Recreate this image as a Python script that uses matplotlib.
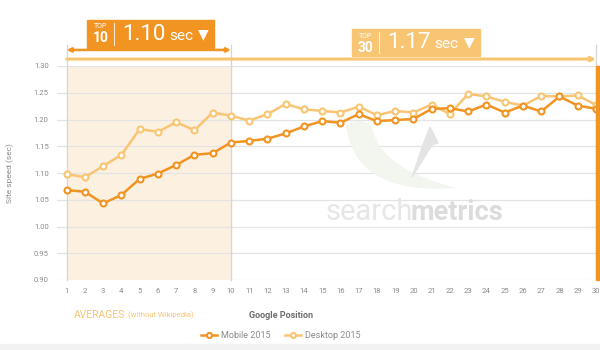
import numpy as np
import matplotlib
matplotlib.use('Agg')
import matplotlib.pyplot as plt
from matplotlib.patches import Rectangle, Polygon, PathPatch
from matplotlib.path import Path

# average load time per Google position
positions = list(range(1, 31))
mobile = [1.068, 1.065, 1.043, 1.059, 1.089, 1.099, 1.115, 1.134, 1.137, 1.157,
          1.160, 1.164, 1.174, 1.187, 1.197, 1.194, 1.210, 1.197, 1.199, 1.201,
          1.220, 1.221, 1.215, 1.228, 1.213, 1.226, 1.215, 1.243, 1.226, 1.220]
desktop = [1.098, 1.092, 1.113, 1.134, 1.182, 1.177, 1.195, 1.180, 1.213, 1.207,
           1.198, 1.210, 1.229, 1.219, 1.216, 1.213, 1.224, 1.208, 1.216, 1.213,
           1.228, 1.210, 1.248, 1.243, 1.233, 1.226, 1.244, 1.243, 1.245, 1.227]
y_ticks = [0.90, 0.95, 1.00, 1.05, 1.10, 1.15, 1.20, 1.25, 1.30]
top10_avg = "1.10"
top30_avg = "1.17"

DARK = '#F19422'
LIGHT = '#F8C572'
SHADE = '#FCF1E1'
GRID = '#E3E3E3'
TXT = '#8A8A8A'

plt.rcParams['font.family'] = ['Roboto', 'DejaVu Sans']

fig = plt.figure(figsize=(6, 3.5), dpi=100)
W, H = 600.0, 350.0


def fx(px):
    return px / W


def fy(py):
    return 1 - py / H


def fp(pts):
    return [(fx(x), fy(y)) for x, y in pts]


renderer = fig.canvas.get_renderer()


def right_edge(t):
    bb = t.get_window_extent(renderer=renderer)
    return bb.x1


ax = fig.add_axes([fx(57), fy(280), fx(596) - fx(57), fy(66) - fy(280)])
ax.set_xlim(0.47, 30)
ax.set_ylim(0.90, 1.30)

# watermark logo behind the data
swoosh = Path(fp([(346, 126), (356, 196), (456, 188), (378, 168), (372, 126),
                  (360, 116), (346, 126)]),
              [Path.MOVETO, Path.CURVE3, Path.CURVE3, Path.CURVE3, Path.CURVE3,
               Path.CURVE3, Path.CURVE3])
fig.patches.append(PathPatch(swoosh, facecolor='#F2F6EE', edgecolor='none',
                             transform=fig.transFigure, zorder=0))
spike = Polygon(fp([(430, 127), (438, 143), (432, 145), (412, 177),
                    (424, 142)]),
                closed=True, color='#E4E4E4', transform=fig.transFigure,
                zorder=0)
fig.patches.append(spike)
fig.text(fx(326), fy(212), 'search', color='#E6E6E6', fontsize=21,
         va='center', ha='left')
fig.text(fx(503), fy(212), 'metrics', color='#DCDCDC',
         fontsize=19.5, fontweight='bold', va='center', ha='right')

ax.set_facecolor('none')
ax.axvspan(1, 10, color=SHADE, zorder=0)
for y in y_ticks:
    ax.axhline(y, color=GRID, lw=0.9, zorder=1)

# vertical markers at positions 1, 10 and 30
for xv in (1, 10, 30):
    ax.plot([xv, xv], [0.90, 1.339], color='#D6D6D6', lw=0.9,
            clip_on=False, zorder=1)

ax.plot(positions, desktop, color=LIGHT, lw=1.8, marker='o', markersize=4.3,
        markerfacecolor='white', markeredgewidth=1.5, zorder=3,
        label='Desktop 2015')
ax.plot(positions, mobile, color=DARK, lw=1.8, marker='o', markersize=4.3,
        markerfacecolor='white', markeredgewidth=1.5, zorder=4,
        label='Mobile 2015')

for s in ax.spines.values():
    s.set_visible(False)
ax.set_xticks(positions)
ax.set_yticks(y_ticks)
ax.set_yticklabels(['%.2f' % v for v in y_ticks])
ax.tick_params(length=0, labelsize=5.5, colors=TXT, pad=6)

# range arrows above the plot
ax.annotate('', xy=(1, 1.330), xytext=(10, 1.330), annotation_clip=False,
            arrowprops=dict(arrowstyle='<|-|>', color=DARK, lw=1.8,
                            mutation_scale=6, shrinkA=0, shrinkB=0))
ax.annotate('', xy=(30, 1.313), xytext=(1, 1.313), annotation_clip=False,
            arrowprops=dict(arrowstyle='-|>', color=LIGHT, lw=2.2,
                            mutation_scale=6, shrinkA=0, shrinkB=0))

# thick bar on the right edge
fig.patches.append(Rectangle((fx(596), fy(280)), fx(600) - fx(596),
                             fy(66) - fy(280), color=DARK,
                             transform=fig.transFigure, zorder=5))


def badge(x0, x1, y0, y1, sep, color, top, value):
    fig.patches.append(Rectangle((fx(x0), fy(y1)), fx(x1) - fx(x0),
                                 fy(y0) - fy(y1), color=color,
                                 transform=fig.transFigure, zorder=6))
    fig.lines.append(plt.Line2D([fx(sep), fx(sep)], [fy(y0 + 3), fy(y1 - 3)],
                                color='white', lw=0.8, alpha=0.8,
                                transform=fig.transFigure, zorder=7))
    cx = (x0 + sep) / 2
    ym = (y0 + y1) / 2
    fig.text(fx(cx), fy(y0 + 7), 'TOP', color='white', fontsize=5,
             ha='center', va='center', zorder=8)
    fig.text(fx(cx), fy(y0 + 18.5), top, color='white', fontsize=10,
             fontweight='bold', ha='center', va='center', zorder=8)
    fig.text(fx(sep + 8), fy(ym), value, color='white', fontsize=16,
             ha='left', va='center', zorder=8)
    fig.text(fx(sep + 55), fy(ym + 1.5), 'sec', color='white',
             fontsize=11, ha='left', va='center', zorder=8)
    fig.text(fx(x1 - 11), fy(ym), '\u25BC', color='white',
             fontsize=10, ha='center', va='center', zorder=8,
             family=['DejaVu Sans'])


badge(87, 214, 20, 48, 114, DARK, '10', top10_avg)
badge(352, 480, 29, 56, 379, LIGHT, '30', top30_avg)

# axis titles
fig.text(fx(10), fy(173), 'Site speed (sec)', rotation=90, color=TXT,
         fontsize=6, ha='center', va='center')
fig.text(fx(281), fy(315), 'Google Position', color='#6E6E6E', fontsize=6.5,
         fontweight='bold', ha='center', va='center')
t2 = fig.text(fx(74), fy(315), 'AVERAGES', color=LIGHT, fontsize=7.5,
              ha='left', va='center')
fig.text(right_edge(t2) / W + 0.004, fy(315.5), '(without Wikipedia)',
         color=LIGHT, fontsize=5.5, ha='left', va='center')

# legend
handles, labels = ax.get_legend_handles_labels()
leg = fig.legend(handles[::-1], labels[::-1], loc='center',
                 bbox_to_anchor=(fx(281), fy(336)), ncol=2, frameon=False,
                 fontsize=6.5, handlelength=1.7, columnspacing=1.6,
                 handletextpad=0.5, markerscale=0.85)
for t in leg.get_texts():
    t.set_color(TXT)

# pale band along the bottom
fig.patches.append(Rectangle((0, 0), 1, 6 / H, color='#F2F2F2',
                             transform=fig.transFigure, zorder=0))

fig.savefig('out.png', dpi=100, facecolor='white')
